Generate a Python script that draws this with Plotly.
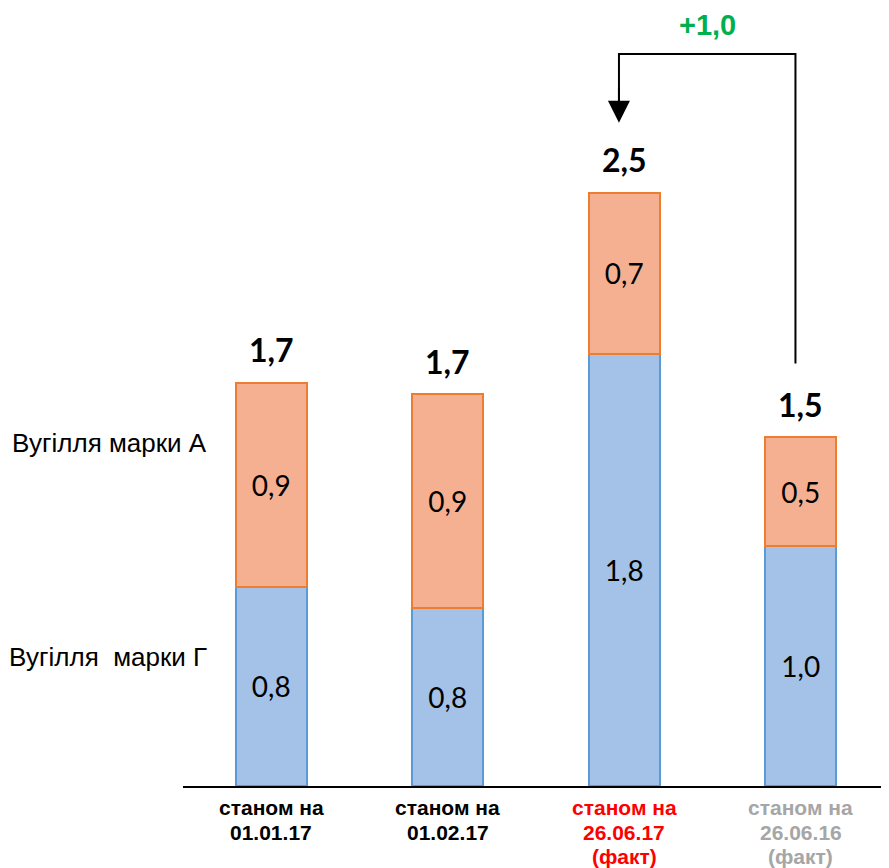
import plotly.graph_objects as go

categories = ["станом на<br>01.01.17", "станом на<br>01.02.17",
              "станом на<br>26.06.17<br>(факт)", "станом на<br>26.06.16<br>(факт)"]
category_colors = ["#000000", "#000000", "#ff0000", "#a6a6a6"]

series_g_name = "Вугілля  марки Г"
series_a_name = "Вугілля марки А"

# heights; labels as printed on the chart
coal_g = [0.84, 0.75, 1.82, 1.01]
coal_a = [0.86, 0.90, 0.68, 0.46]
coal_g_labels = ["0,8", "0,8", "1,8", "1,0"]
coal_a_labels = ["0,9", "0,9", "0,7", "0,5"]
total_labels = ["1,7", "1,7", "2,5", "1,5"]
change_label = "+1,0"

totals = [g + a for g, a in zip(coal_g, coal_a)]
xs = list(range(len(categories)))

LABEL_FONT = "Lato, 'Open Sans', sans-serif"
ARIAL = "'Liberation Sans', Arial, sans-serif"

fig = go.Figure()
fig.add_trace(go.Bar(
    x=xs, y=coal_g, name=series_g_name,
    marker=dict(color="#a4c2e7", line=dict(color="#5b9bd5", width=2)),
    text=coal_g_labels, texttemplate="%{text}", textposition="inside",
    insidetextanchor="middle", textangle=0, constraintext="none",
    textfont=dict(family=LABEL_FONT, size=28, color="#000000"),
    hoverinfo="skip",
))
fig.add_trace(go.Bar(
    x=xs, y=coal_a, name=series_a_name,
    marker=dict(color="#f5b092", line=dict(color="#ed7d31", width=2)),
    text=coal_a_labels, texttemplate="%{text}", textposition="inside",
    insidetextanchor="middle", textangle=0, constraintext="none",
    textfont=dict(family=LABEL_FONT, size=28, color="#000000"),
    hoverinfo="skip",
))

annotations = []
# total labels above bars
for i, (t, lab) in enumerate(zip(totals, total_labels)):
    annotations.append(dict(
        x=i, y=t, xref="x", yref="y", text="<b>" + lab + "</b>",
        showarrow=False, yanchor="middle", yshift=33,
        font=dict(family=LABEL_FONT, size=32, color="#000000"),
    ))
# category labels, one annotation per line for tight line spacing
for i, (c, col) in enumerate(zip(categories, category_colors)):
    for k, line in enumerate(c.split("<br>")):
        annotations.append(dict(
            x=i, y=0, xref="x", yref="paper", text="<b>" + line + "</b>",
            showarrow=False, yanchor="middle", yshift=-(21.5 + 24.5 * k),
            align="center",
            font=dict(family=ARIAL, size=21, color=col),
        ))
# series names on the left
annotations.append(dict(
    x=0, y=1.446, xref="paper", yref="y", text=series_a_name,
    showarrow=False, xanchor="right", xshift=26, yanchor="middle",
    font=dict(family=ARIAL, size=26, color="#000000"),
))
annotations.append(dict(
    x=0, y=0.545, xref="paper", yref="y", text=series_g_name,
    showarrow=False, xanchor="right", xshift=26, yanchor="middle",
    font=dict(family=ARIAL, size=26, color="#000000"),
))

# change connector from bar 4 to bar 3
x_from = xs[3] - 0.03
x_to = xs[2] - 0.03
y_low = totals[3] + 0.31
y_top = 3.084
y_tip = totals[2] + 0.295
shapes = [dict(
    type="path", xref="x", yref="y",
    path=f"M {x_from} {y_low} L {x_from} {y_top} L {x_to} {y_top} L {x_to} {y_tip + 0.06}",
    line=dict(color="#000000", width=2),
)]
annotations.append(dict(
    x=x_to, y=y_tip, xref="x", yref="y", ax=x_to, ay=y_tip + 0.15,
    axref="x", ayref="y", text="", showarrow=True, arrowhead=2,
    arrowsize=2.2, arrowwidth=2, arrowcolor="#000000", standoff=0,
))
annotations.append(dict(
    x=(x_from + x_to) / 2, y=3.206, xref="x", yref="y",
    text="<b>" + change_label + "</b>", showarrow=False, yanchor="middle",
    font=dict(family=ARIAL, size=29, color="#00b050"),
))

fig.update_layout(
    width=881, height=860,
    margin=dict(l=175, r=0, t=0, b=81.5),
    barmode="stack", bargap=0.595,
    showlegend=False,
    plot_bgcolor="#ffffff", paper_bgcolor="#ffffff",
    xaxis=dict(range=[-0.5, 3.5], showticklabels=False, showgrid=False,
               zeroline=False, showline=True, linecolor="#000000",
               linewidth=2, ticks=""),
    yaxis=dict(range=[0, 3.278], visible=False, showgrid=False, zeroline=False),
    annotations=annotations, shapes=shapes,
)

fig.write_html("out.html")
